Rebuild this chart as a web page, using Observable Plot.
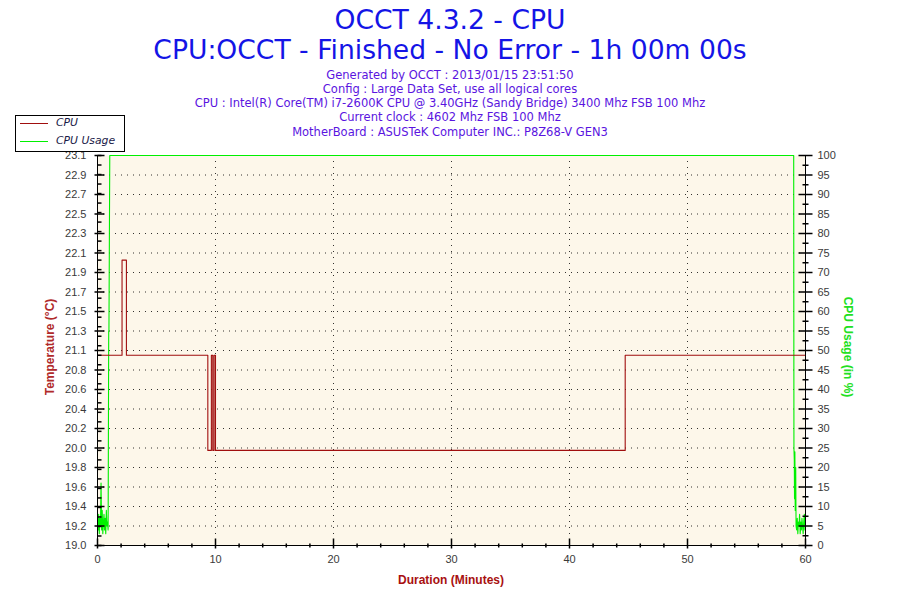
<!DOCTYPE html>
<html>
<head>
<meta charset="utf-8">
<script src="https://cdn.jsdelivr.net/npm/d3@7"></script>
<script src="https://cdn.jsdelivr.net/npm/@observablehq/plot@0.6"></script>
<style>
  html, body { margin: 0; padding: 0; background: #fff; }
  #wrap { position: relative; width: 900px; height: 600px; overflow: hidden; }
  .t { position: absolute; left: 0; width: 900px; text-align: center; white-space: nowrap; font-family: "DejaVu Sans", Verdana, sans-serif; line-height: 1.15; }
  .big { font-size: 26.6px; color: #1414e6; }
  .small { font-size: 11.5px; color: #5a14e0; }
  #legend { position: absolute; left: 15px; top: 115px; width: 108px; height: 35px; border: 1px solid #000; background: #fff; font-family: "DejaVu Sans", Verdana, sans-serif; font-size: 10.8px; font-style: italic; color: #1a1a48; }
  .li { position: absolute; left: 2px; height: 16px; width: 106px; }
  .sw { position: absolute; left: 2px; top: 7px; width: 28px; height: 1px; }
  .lt { position: absolute; left: 38px; top: 0px; }
  .axt { position: absolute; font-family: "Liberation Sans", Arial, sans-serif; font-weight: bold; font-size: 12px; white-space: nowrap; }
</style>
</head>
<body>
<div id="wrap"></div>
<script>
// ---- data ----
const titleLines = ["OCCT 4.3.2 - CPU", "CPU:OCCT - Finished - No Error - 1h 00m 00s"];
const infoLines = [
  "Generated by OCCT : 2013/01/15 23:51:50",
  "Config : Large Data Set, use all logical cores",
  "CPU : Intel(R) Core(TM) i7-2600K CPU @ 3.40GHz (Sandy Bridge) 3400 Mhz FSB 100 Mhz",
  "Current clock : 4602 Mhz FSB 100 Mhz",
  "MotherBoard : ASUSTeK Computer INC.: P8Z68-V GEN3"
];
const seriesNames = ["CPU", "CPU Usage"];
const tempMin = 19.0, tempMax = 23.1;
const leftLabels = ["19.0","19.2","19.4","19.6","19.8","20.0","20.2","20.4","20.6","20.8","21.1","21.3","21.5","21.7","21.9","22.1","22.3","22.5","22.7","22.9","23.1"];
const rightLabels = [0,5,10,15,20,25,30,35,40,45,50,55,60,65,70,75,80,85,90,95,100];
const xLabels = [0,10,20,30,40,50,60];

// CPU temperature (°C), step series
const tempTimes = [0, 2.08, 2.45, 9.35, 9.65, 9.77, 9.88, 10.0, 44.72, 60];
const tempValues = [21, 22, 21, 20, 21, 20, 21, 20, 21, 21];

// CPU usage (%)
const usageTimes = [0, 0.05, 0.1, 0.15, 0.2, 0.25, 0.3, 0.35, 0.4, 0.45, 0.5, 0.55, 0.6, 0.65, 0.7, 0.75, 0.8, 0.85, 0.9,
  0.95, 0.97, 1.04, 59.0, 59.02, 59.05, 59.07, 59.1, 59.13, 59.17, 59.2, 59.25, 59.3, 59.35, 59.4, 59.45, 59.5, 59.55, 59.6,
  59.65, 59.7, 59.75, 59.8, 59.85, 59.9, 59.95, 60];
const usageValues = [6, 4, 8, 3, 7, 5, 16, 4, 9, 3, 6, 8, 4, 7, 3, 9, 5, 6, 4,
  55, 55, 100, 100, 25, 22, 12, 24, 9, 20, 5, 4, 7, 3, 6, 5, 8, 3, 6,
  4, 7, 5, 3, 6, 8, 4, 5];

// ---- build ----
const toPct = t => (t - tempMin) / (tempMax - tempMin) * 100;
const tempData = tempTimes.map((t, i) => ({t, v: toPct(tempValues[i])}));
const usageData = usageTimes.map((t, i) => ({t, v: usageValues[i]}));

const leftMajor = leftLabels.map((_, i) => i * 100 / (leftLabels.length - 1));
const leftMinor = d3.range(Math.round(tempMin * 10), Math.round(tempMax * 10) + 1).map(v => toPct(v / 10));
const rightMinor = rightLabels.slice(0, -1).map(v => v + 2.5);
const xMinor = d3.range(0, 61, 2).filter(v => v % 10 !== 0);
const gridY = rightLabels.filter(v => v > 0 && v < 100);
const gridX = xLabels.filter(v => v > 0 && v < 60);

const hTick = (a, b) => ({draw(ctx) { ctx.moveTo(a, 0); ctx.lineTo(b, 0); }});
const vTick = (a, b) => ({draw(ctx) { ctx.moveTo(0, a); ctx.lineTo(0, b); }});

const red = "#a00e0e";
const green = "#00f000";

const chart = Plot.plot({
  width: 900,
  height: 600,
  marginLeft: 97,
  marginRight: 95,
  marginTop: 155,
  marginBottom: 55,
  style: {fontFamily: "'Liberation Sans', Arial, sans-serif", fontSize: "11px", background: "transparent", color: "#333"},
  x: {domain: [0, 60], axis: null},
  y: {domain: [0, 100], axis: null},
  marks: [
    Plot.frame({fill: "#fdf7ea", stroke: "none"}),
    Plot.ruleY(gridY, {stroke: "#000", strokeDasharray: "1,5", strokeOpacity: 0.8}),
    Plot.ruleX(gridX, {stroke: "#000", strokeDasharray: "1,5", strokeOpacity: 0.8}),
    Plot.line(usageData, {x: "t", y: "v", stroke: green, strokeWidth: 1.1}),
    Plot.line(tempData, {x: "t", y: "v", stroke: red, strokeWidth: 1.1, curve: "step-after"}),
    // axis lines
    Plot.ruleX([0, 60], {stroke: "#000"}),
    Plot.ruleY([0], {stroke: "#000"}),
    // left axis
    Plot.dot(leftMinor, {y: d => d, frameAnchor: "left", symbol: hTick(0, 4), stroke: "#000", fill: "none"}),
    Plot.dot(leftMajor, {y: d => d, frameAnchor: "left", symbol: hTick(-3, 7), stroke: "#000", fill: "none"}),
    Plot.axisY(leftMajor, {anchor: "left", tickSize: 0, tickPadding: 11, tickFormat: d => leftLabels[Math.round(d / 5)], label: null, fill: "#3a3a3a"}),
    // right axis
    Plot.dot(rightMinor, {y: d => d, frameAnchor: "right", symbol: hTick(-3, 3), stroke: "#000", fill: "none"}),
    Plot.dot(rightLabels, {y: d => d, frameAnchor: "right", symbol: hTick(-7, 7), stroke: "#000", fill: "none"}),
    Plot.axisY(rightLabels, {anchor: "right", tickSize: 0, tickPadding: 12, tickFormat: d => String(d), label: null, fill: "#3a3a3a"}),
    // bottom axis
    Plot.dot(xMinor, {x: d => d, frameAnchor: "bottom", symbol: vTick(-2, 2), stroke: "#000", fill: "none"}),
    Plot.dot(xLabels, {x: d => d, frameAnchor: "bottom", symbol: vTick(-7, 3), stroke: "#000", fill: "none"}),
    Plot.axisX(xLabels, {anchor: "bottom", tickSize: 0, tickPadding: 10, tickFormat: d => String(d), label: null, fill: "#3a3a3a"})
  ]
});

const wrap = document.getElementById("wrap");
chart.style.position = "absolute";
chart.style.left = "0px";
chart.style.top = "0px";
wrap.appendChild(chart);

function addDiv(cls, text, styles) {
  const d = document.createElement("div");
  d.className = cls;
  d.textContent = text;
  Object.assign(d.style, styles || {});
  wrap.appendChild(d);
  return d;
}

addDiv("t big", titleLines[0], {top: "5px"});
addDiv("t big", titleLines[1], {top: "35px"});
infoLines.forEach((s, i) => addDiv("t small", s, {top: (68.5 + i * 14.3) + "px"}));

// axis titles
addDiv("axt", "Temperature (°C)", {left: "50px", top: "347px", color: "#b02a2a", transform: "translate(-50%,-50%) rotate(-90deg)"});
addDiv("axt", "CPU Usage (in %)", {left: "848px", top: "347px", color: "#22e022", transform: "translate(-50%,-50%) rotate(90deg)"});
addDiv("axt", "Duration (Minutes)", {left: "451px", top: "580px", color: "#a81010", transform: "translate(-50%,-50%)"});

// legend
const legend = document.createElement("div");
legend.id = "legend";
[red, green].forEach((c, i) => {
  const row = document.createElement("div");
  row.className = "li";
  row.style.top = (i === 0 ? 0 : 18) + "px";
  const sw = document.createElement("div");
  sw.className = "sw";
  sw.style.background = c;
  const lt = document.createElement("div");
  lt.className = "lt";
  lt.textContent = seriesNames[i];
  row.appendChild(sw);
  row.appendChild(lt);
  legend.appendChild(row);
});
wrap.appendChild(legend);
</script>
</body>
</html>
